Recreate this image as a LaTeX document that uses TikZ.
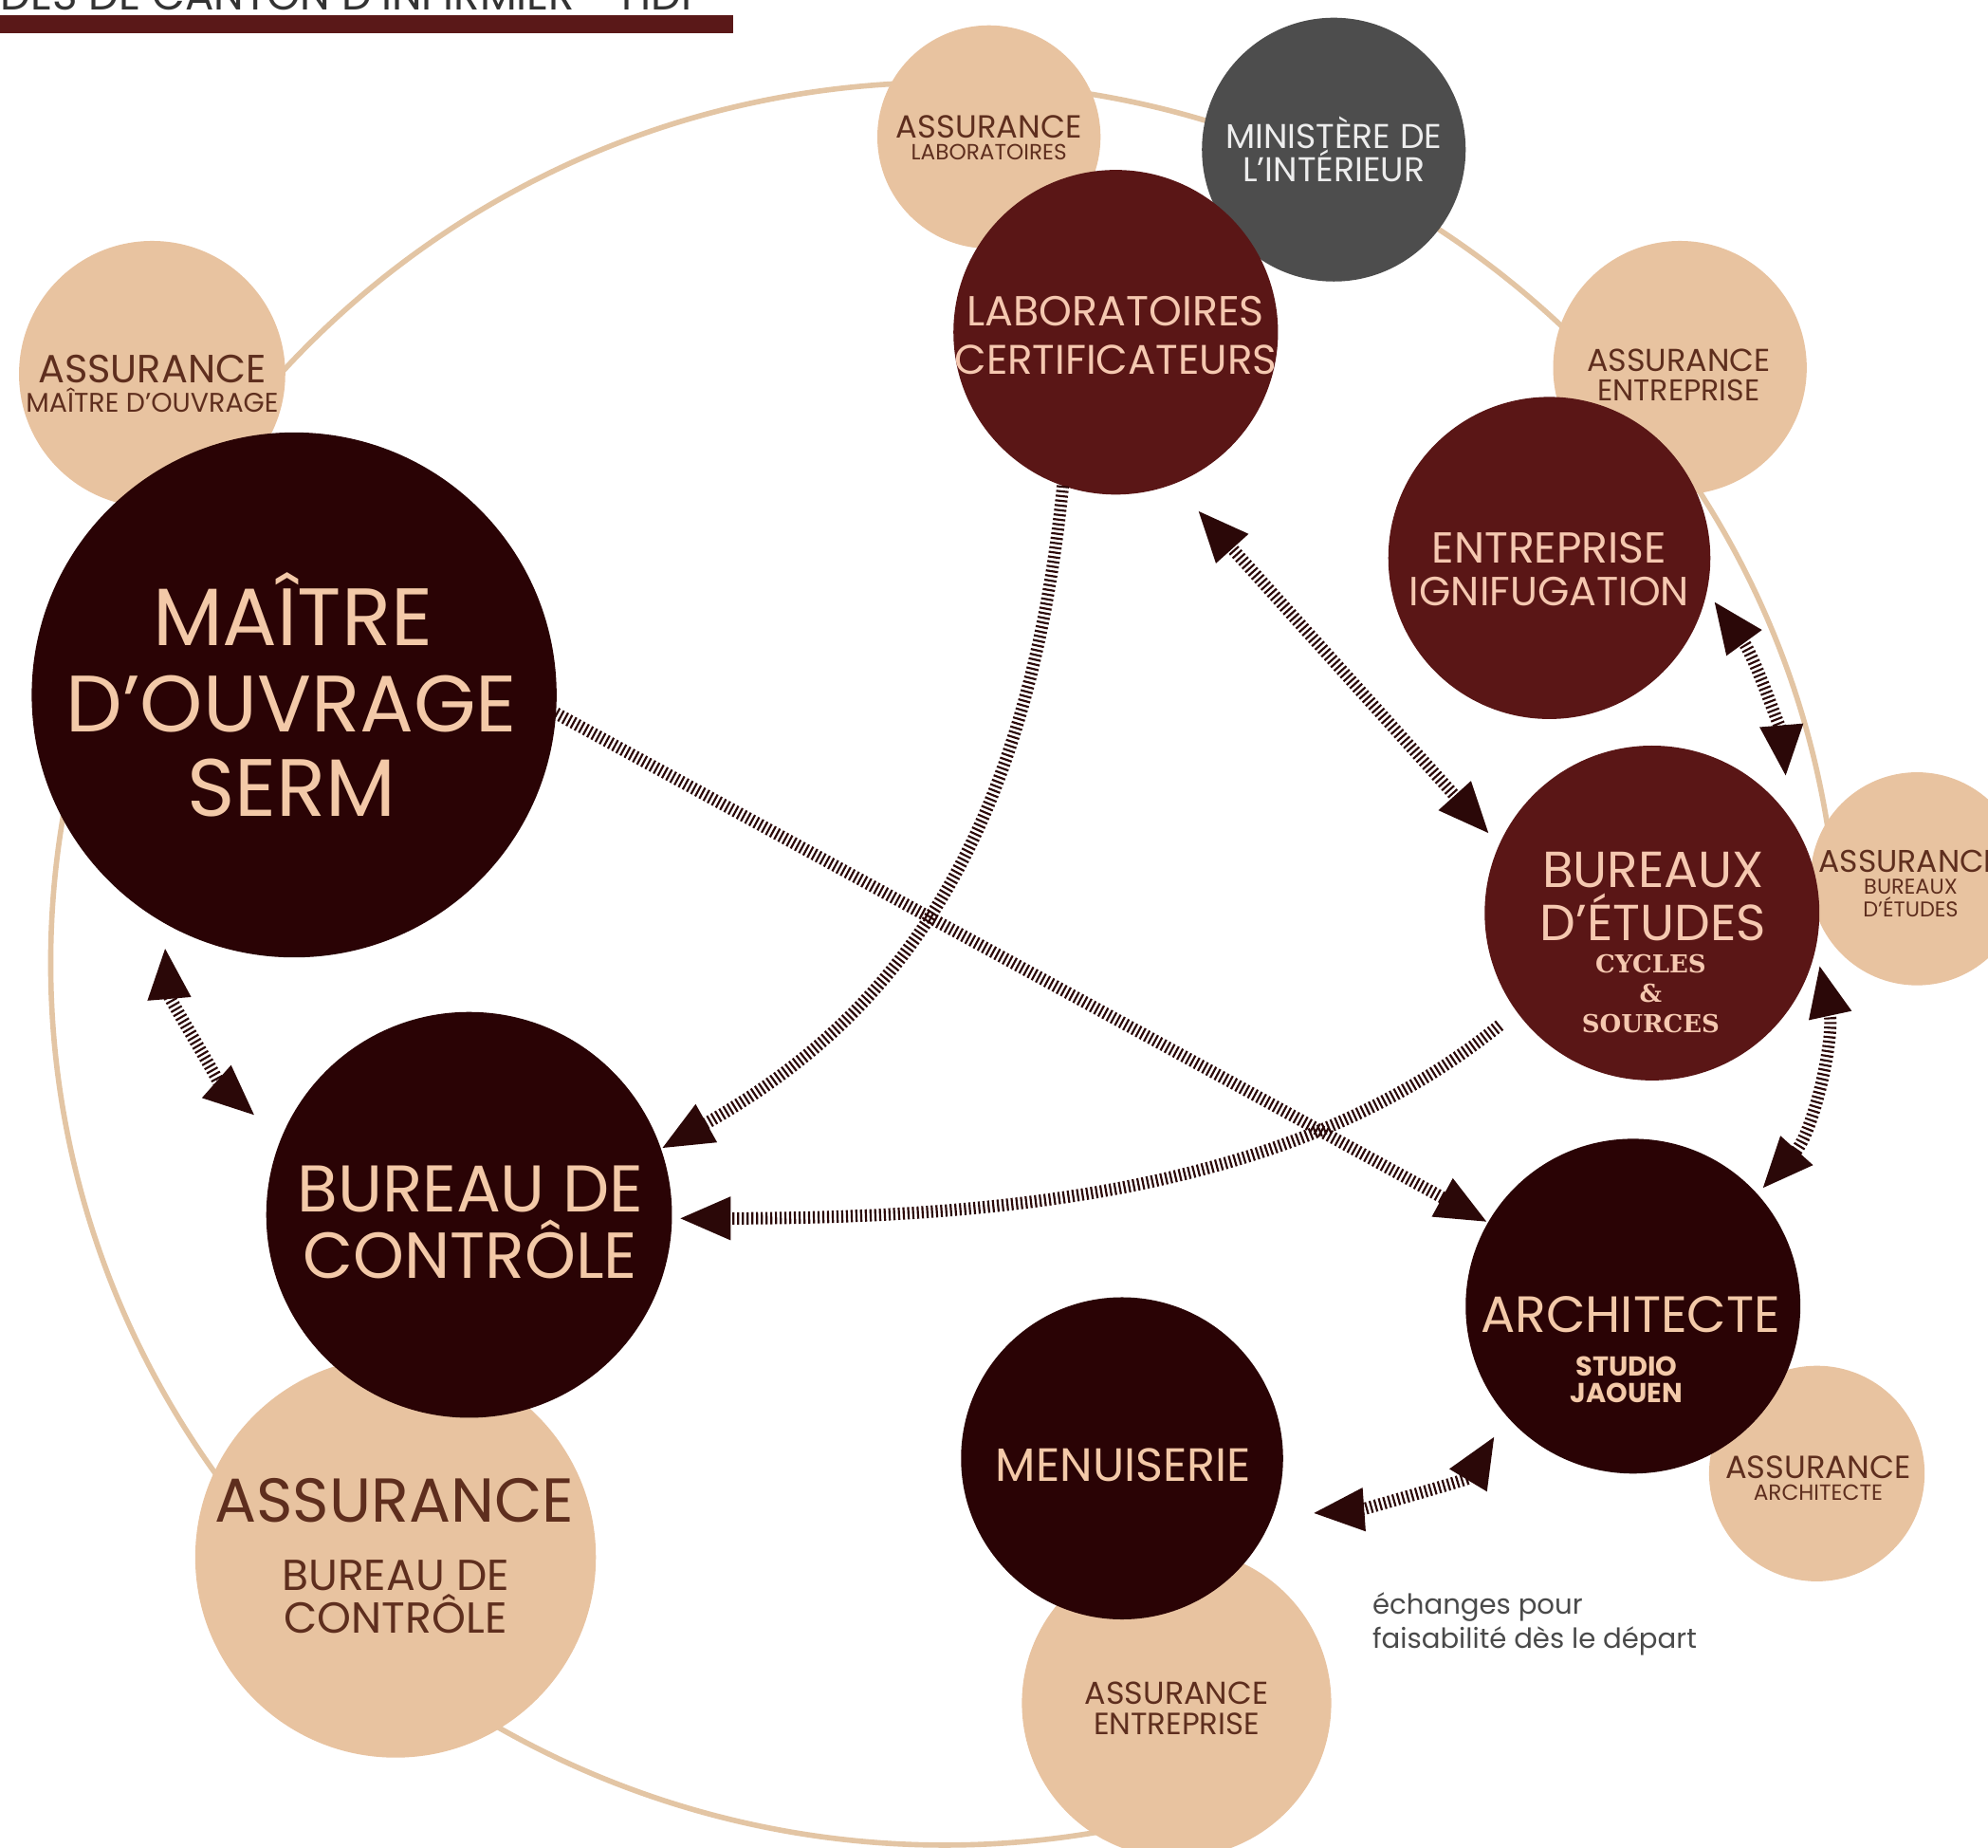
\documentclass[tikz,border=0pt]{standalone}
\usepackage{fontspec}
\setmainfont{Poppins}
\newfontfamily\srfbold{DejaVu Serif}
\usetikzlibrary{arrows.meta}
\definecolor{darkc}{HTML}{2A0305}
\definecolor{maroonc}{HTML}{5A1616}
\definecolor{tanfill}{HTML}{E8C3A0}
\definecolor{greyc}{HTML}{4D4D4D}
\definecolor{ringc}{HTML}{E3C5A4}
\definecolor{peach}{HTML}{F3C9A8}
\definecolor{pinkpeach}{HTML}{F5C8B0}
\definecolor{tantext}{HTML}{5E2E1E}
\definecolor{barc}{HTML}{5A1818}
\definecolor{stripec}{HTML}{2B0808}
\definecolor{notec}{HTML}{4A4A4A}
\newcommand\fsz[1]{\fontsize{#1}{#1}\selectfont}
\begin{document}
\begin{tikzpicture}[x=0.013367cm,y=0.013367cm,
  >={Triangle[length=0.55cm,width=0.42cm]},
  dsk/.style={circle,inner sep=0pt,outer sep=0pt,minimum size=#1*0.026734cm},
  tanc/.style={dsk=#1,fill=tanfill},
  darkd/.style={dsk=#1,fill=darkc},
  maroond/.style={dsk=#1,fill=maroonc},
  greyd/.style={dsk=#1,fill=greyc},
  lbl/.style={anchor=base,inner sep=0pt,outer sep=0pt},
  conn/.style={draw=stripec,line width=0.13cm,dash pattern=on 0.62pt off 0.8pt},
  ringline/.style={draw=ringc,line width=1.6pt}
]
\useasboundingbox (0,0) rectangle (1568,-1457);
\fill[white] (0,0) rectangle (1568,-1457);

% title (cut at top) and bar
\node[anchor=base east,inner sep=0pt,text=black!80,font=\fsz{12.8}] (title) at (546,-8) {DES DE CANTON D'INFIRMIER - HDI};
\fill[barc] (0,-12) rectangle (578,-26);

% big ring (open in the lower right)
\draw[ringline] (745,-760) ++(3:705 and 695) arc [start angle=3, end angle=280, x radius=705, y radius=695];

% assurance discs (behind)
\node[tanc=105] (amo) at (120,-295) {};
\node[tanc=88] (alab) at (780,-108) {};
\node[tanc=100] (aent) at (1325,-290) {};
\node[tanc=84] (abe) at (1512,-693) {};
\node[tanc=85] (aarch) at (1433,-1162) {};
\node[tanc=122] (aentb) at (928,-1343) {};
\node[tanc=158] (abc) at (312,-1228) {};
\node[greyd=104] (mini) at (1052,-118) {};

% main discs
\node[darkd=207] (mo) at (232,-548) {};
\node[maroond=128] (lab) at (880,-262) {};
\node[maroond=127] (ign) at (1222,-440) {};
\node[maroond=132] (be) at (1303,-720) {};
\node[darkd=132] (arch) at (1288,-1030) {};
\node[darkd=127] (menu) at (885,-1150) {};
\node[darkd=160] (bc) at (370,-958) {};

% texts
\node[lbl,text=tantext,font=\fsz{11.8}] (tamo1) at (120,-302) {ASSURANCE};
\node[lbl,text=tantext,font=\fsz{8.1}] (tamo2) at (120,-325) {MAÎTRE D'OUVRAGE};

\node[lbl,text=peach,font=\fsz{24.4}] (tmo1) at (231,-509) {MAÎTRE};
\node[lbl,text=peach,font=\fsz{24}] (tmo2) at (230,-577) {D'OUVRAGE};
\node[lbl,text=peach,font=\fsz{24.4}] (tmo3) at (230,-644) {SERM};

\node[lbl,text=tantext,font=\fsz{9.6}] (talab1) at (780,-109) {ASSURANCE};
\node[lbl,text=tantext,font=\fsz{6.6}] (talab2) at (780,-126) {LABORATOIRES};

\node[lbl,text=white!93!black,font=\fsz{10.3}] (tmin1) at (1052,-117) {MINISTÈRE DE};
\node[lbl,text=white!93!black,font=\fsz{10.3}] (tmin2) at (1052,-143) {L'INTÉRIEUR};

\node[lbl,text=pinkpeach,font=\fsz{12.6}] (tlab1) at (880,-257) {LABORATOIRES};
\node[lbl,text=pinkpeach,font=\fsz{12.4}] (tlab2) at (880,-295) {CERTIFICATEURS};

\node[lbl,text=tantext,font=\fsz{9.5}] (taent1) at (1324,-293) {ASSURANCE};
\node[lbl,text=tantext,font=\fsz{9}] (taent2) at (1324,-316) {ENTREPRISE};

\node[lbl,text=pinkpeach,font=\fsz{13}] (tign1) at (1222,-444) {ENTREPRISE};
\node[lbl,text=pinkpeach,font=\fsz{12.2}] (tign2) at (1222,-478) {IGNIFUGATION};

\node[lbl,text=pinkpeach,font=\fsz{15.2}] (tbe1) at (1304,-700) {BUREAUX};
\node[lbl,text=pinkpeach,font=\fsz{15.2}] (tbe2) at (1304,-742) {D'ÉTUDES};
\node[lbl,text=pinkpeach,font=\srfbold\bfseries\fsz{7.4}] (tbe3) at (1302,-767) {CYCLES};
\node[lbl,text=pinkpeach,font=\srfbold\bfseries\fsz{7.4}] (tbe4) at (1302,-790) {\&};
\node[lbl,text=pinkpeach,font=\srfbold\bfseries\fsz{7.4}] (tbe5) at (1302,-814) {SOURCES};

\node[lbl,text=tantext,font=\fsz{9.4}] (tabe1) at (1506,-688) {ASSURANCE};
\node[lbl,text=tantext,font=\fsz{6.4}] (tabe2) at (1507,-705) {BUREAUX};
\node[lbl,text=tantext,font=\fsz{6.4}] (tabe3) at (1507,-723) {D'ÉTUDES};

\node[lbl,text=peach,font=\fsz{15.3}] (tarch1) at (1286,-1051) {ARCHITECTE};
\node[lbl,text=peach,font=\bfseries\fsz{8.2}] (tarch2) at (1283,-1085) {STUDIO};
\node[lbl,text=peach,font=\bfseries\fsz{8.2}] (tarch3) at (1283,-1106) {JAOUEN};

\node[lbl,text=tantext,font=\fsz{9.6}] (taarch1) at (1434,-1166) {ASSURANCE};
\node[lbl,text=tantext,font=\fsz{6.6}] (taarch2) at (1434,-1183) {ARCHITECTE};

\node[lbl,text=peach,font=\fsz{14}] (tmenu) at (886,-1168) {MENUISERIE};

\node[lbl,text=tantext,font=\fsz{9.5}] (taentb1) at (928,-1344) {ASSURANCE};
\node[lbl,text=tantext,font=\fsz{9.2}] (taentb2) at (928,-1368) {ENTREPRISE};

\node[lbl,text=peach,font=\fsz{19.8}] (tbc1) at (371,-956) {BUREAU DE};
\node[lbl,text=peach,font=\fsz{19.5}] (tbc2) at (371,-1008) {CONTRÔLE};

\node[lbl,text=tantext,font=\fsz{18.6}] (tabc1) at (311,-1200) {ASSURANCE};
\node[lbl,text=tantext,font=\fsz{13}] (tabc2) at (312,-1254) {BUREAU DE};
\node[lbl,text=tantext,font=\fsz{13}] (tabc3) at (312,-1288) {CONTRÔLE};

\node[anchor=base west,inner sep=0pt,text=notec,font=\fsz{8.3}] (note1) at (1082,-1273) {échanges pour};
\node[anchor=base west,inner sep=0pt,text=notec,font=\fsz{8.3}] (note2) at (1082,-1300) {faisabilité dès le départ};

% connectors
\draw[conn,->] (lab.251) .. controls +(-30,-300) and +(169,95) .. (bc.19);
\draw[conn,->] (mo.-4) -- (arch.150);
\draw[conn,<->,shorten <=0.37cm,shorten >=0.15cm] (lab.-69.4) -- (be.156);
\draw[conn,<->,shorten <=0.12cm,shorten >=0.42cm] (ign.-12) .. controls +(40,-55) and +(-5,60) .. (be.35.5);
\draw[conn,<->,shorten <=0.18cm,shorten >=0.07cm] (be.-12.7) .. controls +(15,-70) and +(45,50) .. (arch.42);
\draw[conn,<->,shorten <=0.26cm,shorten >=0.36cm] (mo.240.4) .. controls +(5,-60) and +(-45,40) .. (bc.158.7);
\draw[conn,->,shorten <=0.23cm,shorten >=0.07cm] (be.216) .. controls +(-160,-130) and +(300,0) .. (bc.-1.4);
\draw[conn,<->,shorten <=0.42cm,shorten >=0.24cm] (menu.-21.5) .. controls +(70,5) and +(-30,-50) .. (arch.221);
\end{tikzpicture}
\end{document}
